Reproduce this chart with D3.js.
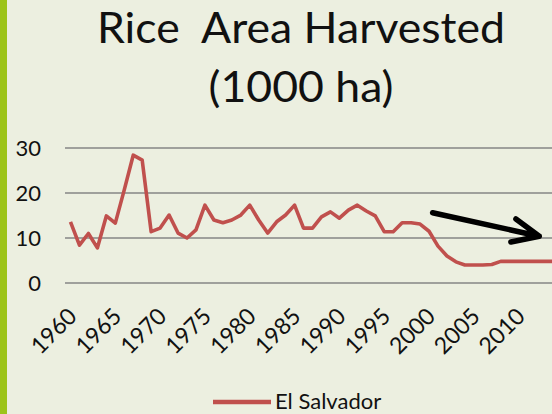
<html>
<script src="https://d3js.org/d3.v7.min.js"></script>
<style>
  body { margin: 0; background: #ECEFE0; }
  svg text { font-family: Lato, "Open Sans", sans-serif; fill: #111; }
</style>
<body>
<svg id="chart" width="552" height="414"></svg>
<script>
// data (thousand ha)
var years = d3.range(1960, 2015);
var elSalvador = [13.6, 8.4, 11.0, 7.8, 14.9, 13.3, 20.7, 28.4, 27.3, 11.4,
                  12.2, 15.1, 11.1, 10.0, 11.8, 17.3, 14.0, 13.4, 14.0, 15.1,
                  17.3, 14.0, 11.1, 13.6, 15.1, 17.3, 12.2, 12.2, 14.7, 15.8,
                  14.4, 16.2, 17.3, 16.0, 14.9, 11.4, 11.4, 13.4, 13.4, 13.1,
                  11.5, 8.2, 6.0, 4.7, 4.0, 4.0, 4.0, 4.1, 4.8, 4.8,
                  4.8, 4.8, 4.8, 4.8, 4.8];
var yTicks = [0, 10, 20, 30];
var xLabels = [1960, 1965, 1970, 1975, 1980, 1985, 1990, 1995, 2000, 2005, 2010];
var seriesName = "El Salvador";
// trend arrow, in data units [year, value]
var arrowFrom = [2000.4, 15.6], arrowTo = [2012.3, 10.4];

var svg = d3.select("#chart");
var W = 552;

// green strip on the left
svg.append("rect").attr("x", 0).attr("y", 0).attr("width", 7).attr("height", 414)
  .attr("fill", "#9DC41A");

var x = d3.scaleBand().domain(years).range([66, 559]).padding(0);
var y = d3.scaleLinear().domain([0, 30]).range([283, 148]);
function xc(yr) { return x(1960) + x.bandwidth() / 2 + (yr - 1960) * x.step(); }

// title
svg.append("text").attr("x", 301).attr("y", 43).attr("text-anchor", "middle")
  .style("font-size", "42px").attr("textLength", 408).attr("lengthAdjust", "spacingAndGlyphs")
  .text("Rice\u00a0 Area Harvested");
svg.append("text").attr("x", 301).attr("y", 102).attr("text-anchor", "middle")
  .style("font-size", "42px").attr("textLength", 185).attr("lengthAdjust", "spacingAndGlyphs")
  .text("(1000 ha)");

// gridlines
svg.append("g").selectAll("line").data(yTicks).enter().append("line")
  .attr("x1", 65).attr("x2", W)
  .attr("y1", function(d) { return y(d); }).attr("y2", function(d) { return y(d); })
  .attr("stroke", "#868686").attr("stroke-width", 1.6);

// y axis labels
var yAxis = d3.axisLeft(y).tickValues(yTicks).tickSize(0).tickPadding(0);
var gy = svg.append("g").attr("transform", "translate(41,0)").call(yAxis);
gy.select(".domain").remove();
gy.selectAll("text").style("font-size", "22px").style("font-family", "Lato, sans-serif").attr("fill", "#111");

// x axis labels, rotated
var xAxis = d3.axisBottom(x).tickValues(xLabels).tickSize(0).tickPadding(0);
var gx = svg.append("g").attr("transform", "translate(0,300)").call(xAxis);
gx.select(".domain").remove();
gx.selectAll("text")
  .style("font-size", "23px").style("font-family", "Lato, sans-serif").attr("fill", "#111")
  .attr("text-anchor", "end")
  .attr("dy", "0.35em")
  .attr("transform", "translate(2,12) rotate(-45)");

// the series
var line = d3.line()
  .x(function(d, i) { return x(years[i]) + x.bandwidth() / 2; })
  .y(function(d) { return y(d); });
svg.append("path").datum(elSalvador)
  .attr("d", line)
  .attr("fill", "none").attr("stroke", "#C0504D").attr("stroke-width", 3.6)
  .attr("stroke-linejoin", "round");

// trend arrow
var ax0 = xc(arrowFrom[0]), ay0 = y(arrowFrom[1]), ax1 = xc(arrowTo[0]), ay1 = y(arrowTo[1]);
var ang = Math.atan2(ay1 - ay0, ax1 - ax0), head = 29, spread = 24 * Math.PI / 180;
var arrowPath = d3.path();
arrowPath.moveTo(ax0, ay0); arrowPath.lineTo(ax1, ay1);
arrowPath.moveTo(ax1 - head * Math.cos(ang - spread), ay1 - head * Math.sin(ang - spread));
arrowPath.lineTo(ax1, ay1);
arrowPath.lineTo(ax1 - head * Math.cos(ang + spread), ay1 - head * Math.sin(ang + spread));
svg.append("path").attr("d", arrowPath.toString())
  .attr("fill", "none").attr("stroke", "#000").attr("stroke-width", 5.5)
  .attr("stroke-linecap", "round").attr("stroke-linejoin", "round");

// legend
svg.append("line").attr("x1", 213).attr("x2", 271).attr("y1", 402).attr("y2", 402)
  .attr("stroke", "#C0504D").attr("stroke-width", 4.5);
svg.append("text").attr("x", 275).attr("y", 409).style("font-size", "22px").text(seriesName);
</script>
</body>
</html>
